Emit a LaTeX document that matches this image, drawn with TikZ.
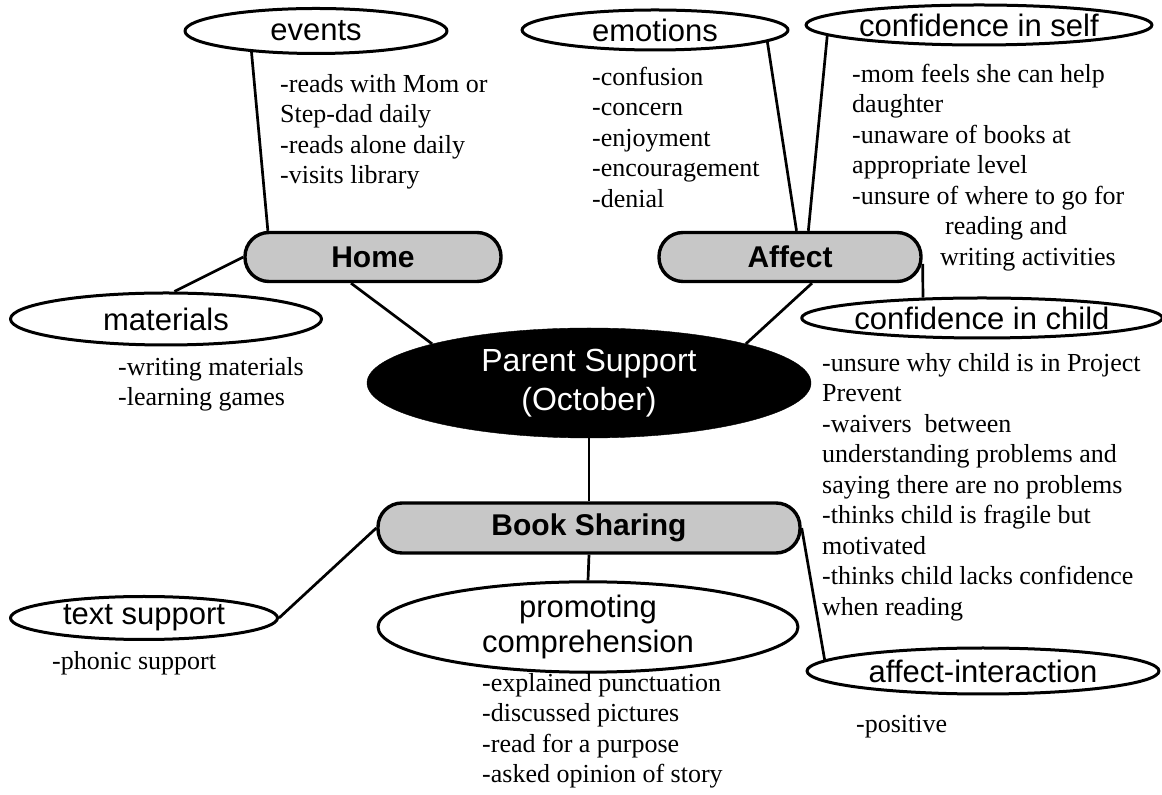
\documentclass[tikz,border=0pt]{standalone}
\usepackage{fontspec}
\setmainfont{Liberation Serif}
\setsansfont{Liberation Sans}
\usetikzlibrary{shapes.geometric}

\begin{document}
\begin{tikzpicture}[line join=bevel,
  topic/.style={ellipse,draw,line width=3bp,inner sep=0pt,align=center,
    font={\sffamily\fontsize{31bp}{35bp}\selectfont}},
  heading/.style={rectangle,rounded corners=24bp,draw,line width=3.4bp,fill=black!22,inner sep=0pt,
    font={\sffamily\bfseries\fontsize{30bp}{34bp}\selectfont}},
  notes/.style={anchor=north west,inner sep=0pt,align=left,
    font={\fontsize{26bp}{30.5bp}\selectfont}},
  link/.style={line width=2.7bp}]
\useasboundingbox (0bp,0bp) rectangle (1162bp,795bp);
%%
\node (node_parent) at (589bp,412bp) [ellipse,draw,fill=black,text=white,inner sep=0pt,minimum width=444bp,minimum height=110bp,align=center,font={\sffamily\fontsize{32bp}{39bp}\selectfont}] {Parent Support\\(October)};
  \node (node_home) at (373bp,538bp) [heading,minimum width=256bp,minimum height=49bp] {Home};
  \node (node_affect) at (790bp,538bp) [heading,minimum width=262bp,minimum height=49bp] {Affect};
  \node (node_books) at (589bp,267bp) [heading,minimum width=422bp,minimum height=50bp] {Book Sharing};
  \node (node_events) at (316bp,764bp) [topic,minimum width=262bp,minimum height=45bp] {events};
  \node (node_emotions) at (655bp,765bp) [topic,minimum width=266bp,minimum height=40bp] {emotions};
  \node (node_self) at (979bp,770bp) [topic,minimum width=346bp,minimum height=40bp] {confidence in self};
  \node (node_materials) at (166bp,476bp) [topic,minimum width=311bp,minimum height=52bp] {materials};
  \node (node_child) at (982bp,477bp) [topic,minimum width=350bp,minimum height=40bp] {confidence in child};
  \node (node_text) at (144bp,177bp) [topic,minimum width=267bp,minimum height=43bp] {text support};
  \node (node_promo) at (588bp,168bp) [topic,minimum width=420bp,minimum height=80bp] {promoting\\comprehension};
  \node (node_interact) at (983bp,124bp) [topic,minimum width=352bp,minimum height=46bp] {affect-interaction};
%
\node (list_events) at (280bp,721bp) [notes] {-reads with Mom or\\Step-dad daily\\-reads alone daily\\-visits library};
  \node (list_emotions) at (592bp,728bp) [notes] {-confusion\\-concern\\-enjoyment\\-encouragement\\-denial};
  \node (list_self) at (852bp,731bp) [notes] {-mom feels she can help\\daughter\\-unaware of books at\\appropriate level\\-unsure of where to go for\\\hspace*{93bp}reading and\\\hspace*{88bp}writing activities};
  \node (list_materials) at (118bp,438bp) [notes] {-writing materials\\-learning games};
  \node (list_child) at (822bp,442bp) [notes] {-unsure why child is in Project\\Prevent\\-waivers\ \ between\\understanding problems and\\saying there are no problems\\-thinks child is fragile but\\motivated\\-thinks child lacks confidence\\when reading};
  \node (list_text) at (52bp,144bp) [notes] {-phonic support};
  \node (list_promo) at (482bp,122bp) [notes] {-explained punctuation\\-discussed pictures\\-read for a purpose\\-asked opinion of story};
  \node (list_interact) at (856bp,80bp) [notes] {-positive};
%
\draw [link] (node_events.198) -- (node_home.166);
  \draw [link] (node_home.west) -- (node_materials.73);
  \draw [link] (node_home.230) -- (node_parent.166);
  \draw [link] (node_emotions.354) -- (node_affect.76);
  \draw [link] (node_self.184) -- (node_affect.55);
  \draw [link] (node_affect.310) -- (node_parent.14);
  \draw [link] (node_affect.357) -- (node_child.161);
  \draw [link] (node_parent.south) -- (node_books.north);
  \draw [link] (node_books.south) -- (node_promo.north);
  \draw [link] (node_books.west) -- (node_text.east);
  \draw [link] (node_books.east) -- (node_interact.176);
%
\end{tikzpicture}
\end{document}
